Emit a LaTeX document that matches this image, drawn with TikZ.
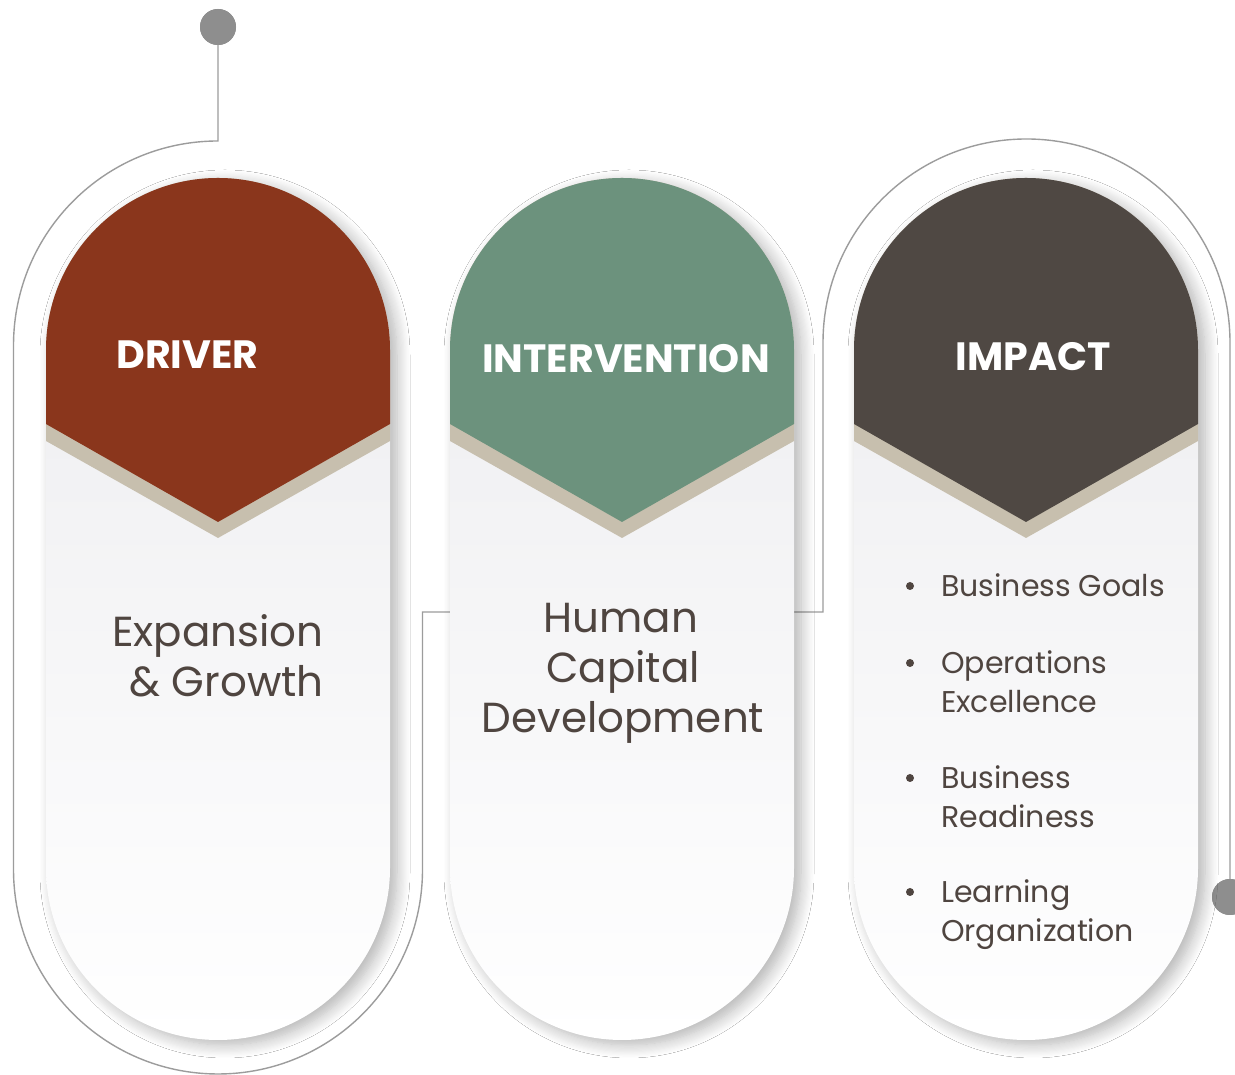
\documentclass[tikz,border=0pt]{standalone}
\usepackage{fontspec}
\setmainfont{Poppins}
\usetikzlibrary{shadows.blur,calc}
\definecolor{drvc}{HTML}{8A361C}
\definecolor{intc}{HTML}{6C927D}
\definecolor{impc}{HTML}{4F4843}
\definecolor{beigec}{HTML}{C7BFAE}
\definecolor{bodytop}{HTML}{EBEBEE}
\definecolor{linec}{HTML}{9C9C9C}
\definecolor{dotc}{HTML}{8E8E8E}
\definecolor{txtc}{HTML}{4F4540}
\tikzset{
  conn/.style={draw=linec, line width=1.4pt},
  dotnode/.style={circle, fill=dotc, inner sep=0pt, minimum size=36pt},
  title/.style={text=white, font=\bfseries\fontsize{39.5}{48}\selectfont, inner sep=0pt, anchor=base},
  body/.style={text=txtc, font=\fontsize{42}{50}\selectfont, inner sep=0pt, anchor=base},
  item/.style={text=txtc, font=\fontsize{30}{38}\selectfont, inner sep=0pt, anchor=base west},
  bul/.style={circle, fill=txtc, inner sep=0pt, minimum size=8pt},
  pillbody/.style={top color=bodytop, bottom color=white,
    blur shadow={shadow xshift=7pt, shadow yshift=-5pt, shadow blur radius=13pt, shadow opacity=30, shadow blur steps=12}}
}
\begin{document}
\begin{tikzpicture}[x=1pt, y=1pt]
\useasboundingbox (0,0) rectangle (1235,1075);
\fill[white] (0,0) rectangle (1235,1075);

% connectors (behind pills)
\node[dotnode] (dotA) at (218,1048) {};
\node[dotnode] (dotB) at (1230,178) {};
\coordinate (a1) at (218,934);
\coordinate (a2) at (422.5,463);
\coordinate (a3) at (452,463);
\coordinate (b1) at (792,463);
\coordinate (b2) at (823,463);
\draw[conn] (dotA.center) -- (a1) arc[start angle=90, end angle=180, radius=204.5]
  -- (13.5,205.5) arc[start angle=180, end angle=360, radius=204.5] -- (a2) -- (a3);
\draw[conn] (b1) -- (b2) -- (823,732.5) arc[start angle=180, end angle=0, radius=203.5] -- (dotB.center);
\node[dotnode] at (dotA) {};
\node[dotnode] at (dotB) {};

% pills
\foreach \cx/\col in {218/drvc, 622/intc, 1026/impc} {
  \path[pillbody] (\cx-172,725) arc[start angle=180, end angle=0, radius=172]
     -- (\cx+172,207) arc[start angle=0, end angle=-180, radius=172] -- cycle;
  \fill[beigec] (\cx-172,725) arc[start angle=180, end angle=0, radius=172]
     -- (\cx+172,634) -- (\cx,537) -- (\cx-172,634) -- cycle;
  \fill[\col] (\cx-172,725) arc[start angle=180, end angle=0, radius=172]
     -- (\cx+172,651) -- (\cx,553) -- (\cx-172,651) -- cycle;
}

% titles
\node[title] (t1) at (187.5,706) {DRIVER};
\node[title] (t2) at (626,702) {INTERVENTION};
\node[title] (t3) at (1033,704) {IMPACT};

% driver text
\node[body] (e1) at (218,428) {Expansion};
\node[body, anchor=base east] (e2) at ($(e1.base east)+(0,-50)$) {\& Growth};

% intervention text
\node[body] (h1) at (621,442) {Human};
\node[body] (h2) at (623,392) {Capital};
\node[body] (h3) at (623,342) {Development};

% impact bullets
\node[item] (i1) at (941,478) {Business Goals};
\node[item] (i2) at (941,401) {Operations};
\node[item] (i3) at (941,362) {Excellence};
\node[item] (i4) at (941,286) {Business};
\node[item] (i5) at (941,247) {Readiness};
\node[item] (i6) at (941,172) {Learning};
\node[item] (i7) at (941,133) {Organization};
\node[bul] (k1) at (910,489) {};
\node[bul] (k2) at (910,412) {};
\node[bul] (k3) at (910,297) {};
\node[bul] (k4) at (910,183) {};
\end{tikzpicture}
\end{document}
